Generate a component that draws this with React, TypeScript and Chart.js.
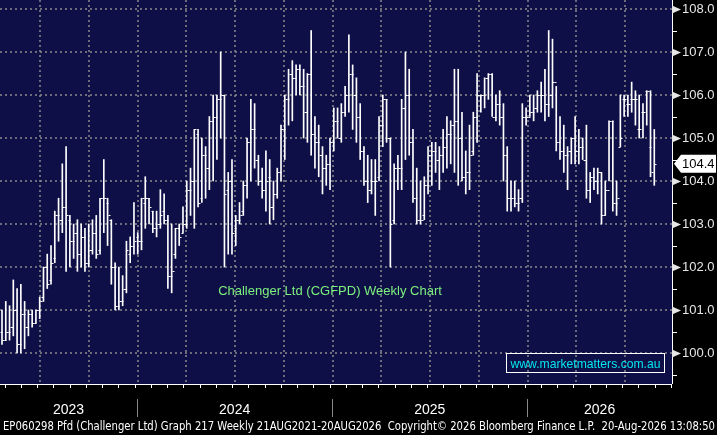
import React, { useEffect, useRef } from "react";
import { Chart, registerables } from "chart.js";
Chart.register(...registerables);

const highs = [101.0,101.2,101.1,101.7,101.5,101.6,101.2,101.0,101.0,101.0,101.3,102.0,102.3,102.5,103.3,103.6,104.4,104.8,103.2,103.0,103.1,103.0,102.9,103.0,103.1,103.2,103.6,104.5,103.6,103.1,102.1,102.0,101.8,102.6,102.7,103.5,102.8,103.6,104.1,103.6,103.3,103.3,103.8,103.7,103.2,103.0,102.9,103.0,103.4,104.0,104.3,105.2,105.2,105.0,104.8,105.5,106.0,106.0,107.0,106.0,104.2,104.5,103.2,103.5,104.0,105.0,105.9,105.8,104.6,104.3,104.7,104.5,104.0,104.3,105.3,106.0,106.6,106.8,106.7,106.7,106.6,106.5,107.5,105.5,105.3,104.8,104.6,105.0,105.7,105.7,105.8,106.2,107.4,106.7,106.4,105.8,104.8,104.6,104.5,104.5,105.5,106.0,105.9,105.0,104.4,104.6,105.9,107.0,106.6,105.2,104.3,104.0,104.1,104.8,104.9,104.9,104.8,105.2,105.5,105.4,106.6,106.6,105.6,104.7,105.3,105.6,106.5,106.0,106.4,106.5,106.5,106.0,106.1,105.8,104.8,104.0,104.0,103.8,105.8,105.7,106.0,106.0,106.1,106.3,106.6,107.5,107.3,106.2,105.5,105.3,104.8,105.0,105.5,105.2,105.0,105.3,104.2,104.3,104.3,104.2,104.0,105.4,105.4,104.0,106.0,106.0,106.0,106.3,106.1,106.0,105.8,106.1,106.1,105.2];
const lows = [100.2,100.3,100.3,100.4,100.0,100.0,100.1,100.4,100.6,100.7,100.8,101.2,101.5,101.6,102.1,102.6,102.8,101.9,102.0,102.2,101.9,102.0,101.9,102.0,102.3,102.2,102.3,102.8,102.5,101.6,101.0,101.0,101.1,101.4,102.1,102.3,102.3,102.4,102.9,103.0,102.8,102.7,102.9,103.0,101.5,101.4,102.2,102.5,102.8,102.9,103.2,102.9,103.4,103.5,103.6,103.8,104.0,104.5,105.0,102.0,102.3,102.3,102.5,103.0,103.2,103.6,104.0,104.3,103.9,103.6,103.3,103.0,103.1,103.6,104.0,104.5,105.3,105.4,106.0,106.0,105.0,104.9,104.6,104.3,104.1,103.7,103.9,103.8,104.7,105.0,104.9,105.5,105.6,105.2,104.9,104.5,103.9,103.5,103.7,103.2,104.0,104.8,104.9,102.0,103.0,103.8,103.8,104.5,104.6,103.5,103.0,103.0,103.1,103.7,103.9,104.2,103.8,104.2,104.3,104.4,104.2,103.9,104.0,103.7,103.8,104.6,104.9,105.6,105.7,105.9,105.5,105.4,105.3,104.0,103.3,103.3,103.4,103.3,103.5,105.3,105.5,105.4,105.6,105.6,105.4,105.5,105.7,104.7,104.5,104.2,103.8,104.4,104.4,104.4,104.5,103.6,103.5,103.8,103.7,103.0,103.2,104.0,103.3,103.2,104.8,105.5,105.5,105.6,105.3,105.0,105.0,105.3,104.1,103.9];
const closes = [100.3,100.5,100.6,101.0,100.2,100.9,100.6,100.9,100.7,101.0,101.2,102.0,101.6,102.1,103.2,103.1,103.4,103.2,102.6,102.8,102.3,102.7,102.1,102.4,102.8,102.3,103.6,103.6,103.2,102.0,101.1,101.2,101.5,102.4,102.5,102.6,102.6,103.6,103.6,103.4,102.9,103.0,103.2,103.1,101.8,101.9,102.9,102.7,103.0,103.8,104.0,105.2,103.5,104.6,104.3,105.4,105.5,105.9,106.0,103.7,104.0,102.8,103.1,103.2,103.9,104.9,105.2,104.5,104.0,103.8,104.0,103.4,103.7,104.2,105.2,105.9,106.5,106.4,106.6,106.2,105.6,106.5,105.1,104.9,104.6,104.3,104.4,104.9,105.4,105.0,105.6,106.0,106.5,106.0,105.5,104.7,104.0,103.8,104.0,104.0,105.3,105.9,105.0,103.0,104.3,104.3,105.7,106.0,104.9,103.6,103.1,103.1,103.9,104.6,104.7,104.5,104.6,104.8,105.1,105.3,105.4,105.0,104.1,104.2,104.6,105.5,106.0,106.0,106.4,106.5,105.5,105.8,105.5,104.6,103.6,103.6,103.5,103.6,105.5,105.5,105.6,105.7,106.0,106.0,105.8,106.0,106.3,104.9,104.7,104.6,104.7,105.0,104.7,104.8,104.5,103.8,104.1,104.0,104.2,103.2,103.8,105.4,103.5,103.6,105.0,105.9,105.8,105.9,105.9,105.2,105.6,106.1,104.2,104.4];
const opens = [100.5,100.3,100.5,100.6,101.0,100.2,100.9,100.6,100.9,100.7,101.0,101.3,102.0,101.7,102.2,103.2,103.1,103.4,103.1,102.6,102.8,102.3,102.7,102.1,102.4,102.8,102.4,103.6,103.5,103.1,102.0,101.1,101.2,101.5,102.3,102.5,102.7,102.6,103.5,103.6,103.3,102.9,103.0,103.3,103.1,101.8,102.3,102.9,102.8,103.0,103.8,104.0,105.1,103.6,104.6,104.3,105.4,105.5,105.9,106.0,103.8,104.0,102.9,103.1,103.3,103.9,104.9,105.2,104.5,104.0,103.8,104.1,103.4,103.7,104.2,105.2,105.9,106.5,106.4,106.6,106.2,105.6,106.5,105.1,104.9,104.6,104.3,104.4,104.9,105.4,105.0,105.6,106.0,106.5,106.0,105.5,104.7,104.0,103.8,104.0,104.1,105.3,105.9,105.0,103.1,104.3,104.3,105.7,106.0,104.9,103.6,103.1,103.2,103.9,104.6,104.7,104.5,104.6,104.8,105.1,105.3,105.4,105.0,104.1,104.2,104.7,105.5,106.0,106.0,106.4,106.5,105.5,105.8,105.5,104.6,103.6,103.6,103.5,103.6,105.5,105.5,105.6,105.7,106.0,106.0,105.8,106.0,106.3,104.9,104.7,104.6,104.7,105.0,104.7,104.8,104.5,103.8,104.1,104.0,104.2,103.2,103.8,105.4,103.5,104.8,105.9,105.8,105.9,105.9,105.2,105.6,106.1,104.8];
const yTicks = [100, 101, 102, 103, 104, 105, 106, 107, 108];
const years = ["2023", "2024", "2025", "2026"];
const yearBounds = [-0.53, 35.8, 87.6, 139.3, 177.7];
const lastPrice = 104.4;
const title = "Challenger Ltd (CGFPD) Weekly Chart";
const site = "www.marketmatters.com.au";
const footer = "EP060298 Pfd (Challenger Ltd) Graph 217 Weekly 21AUG2021-20AUG2026  Copyright\u00A9 2026 Bloomberg Finance L.P.  20-Aug-2026 13:08:50";

export default function App() {
  const ref = useRef<HTMLCanvasElement>(null);
  useEffect(() => {
    const canvas = ref.current!;
    const idx = highs.map((_, i) => i);
    const bg = {
      id: "bg",
      beforeDraw(c: any) {
        const ctx = c.ctx; const a = c.chartArea;
        ctx.save();
        ctx.fillStyle = "#000"; ctx.fillRect(0, 0, c.width, c.height);
        ctx.fillStyle = "#0f0f48"; ctx.fillRect(a.left, a.top, a.right - a.left, a.bottom - a.top);
        const xs = c.scales.x, ys = c.scales.y;
        ctx.strokeStyle = "#8a8a8a"; ctx.lineWidth = 1.5; ctx.setLineDash([2, 3]);
        yTicks.forEach(v => { const y = Math.round(ys.getPixelForValue(v)); ctx.beginPath(); ctx.moveTo(a.left, y); ctx.lineTo(a.right, y); ctx.stroke(); });
        for (let q = 10.08; q < 178; q += 12.93) { const x = Math.round(xs.getPixelForValue(q)); ctx.beginPath(); ctx.moveTo(x, a.top); ctx.lineTo(x, a.bottom); ctx.stroke(); }
        ctx.restore();
      },
      afterDatasetsDraw(c: any) {
        const ctx = c.ctx; const a = c.chartArea; const xs = c.scales.x, ys = c.scales.y;
        ctx.save();
        ctx.strokeStyle = "#fff"; ctx.lineWidth = 1;
        idx.forEach(i => {
          const x = Math.round(xs.getPixelForValue(i)) + 0.5;
          const yo = Math.round(ys.getPixelForValue(opens[i])) + 0.5;
          const yc = Math.round(ys.getPixelForValue(closes[i])) + 0.5;
          ctx.beginPath(); ctx.moveTo(x - 2, yo); ctx.lineTo(x, yo); ctx.moveTo(x, yc); ctx.lineTo(x + 2, yc); ctx.stroke();
        });
        ctx.strokeStyle = "#fff"; ctx.lineWidth = 1;
        ctx.beginPath(); ctx.moveTo(a.right + 0.5, 0); ctx.lineTo(a.right + 0.5, a.bottom); ctx.moveTo(0, a.bottom + 0.5); ctx.lineTo(a.right, a.bottom + 0.5); ctx.stroke();
        ctx.fillStyle = "#e6e6e6"; ctx.font = "13px 'Liberation Sans', Arial"; ctx.textBaseline = "middle"; ctx.textAlign = "left";
        for (let v = 99.5; v <= 108.01; v += 0.5) {
          const y = Math.round(ys.getPixelForValue(v)) + 0.5;
          if (y < 0 || y > a.bottom) continue;
          if (Number.isInteger(v)) {
            ctx.beginPath(); ctx.moveTo(a.right, y - 4); ctx.lineTo(a.right + 9, y); ctx.lineTo(a.right, y + 4); ctx.closePath(); ctx.fill();
            ctx.fillText(v.toFixed(1), a.right + 10, y);
          } else {
            ctx.beginPath(); ctx.moveTo(a.right, y); ctx.lineTo(a.right + 5, y); ctx.strokeStyle = "#fff"; ctx.stroke();
          }
        }
        const yl = ys.getPixelForValue(lastPrice);
        ctx.fillStyle = "#fff";
        ctx.beginPath(); ctx.moveTo(a.right + 2, yl); ctx.lineTo(a.right + 9, yl - 9); ctx.lineTo(716, yl - 9); ctx.lineTo(716, yl + 9); ctx.lineTo(a.right + 9, yl + 9); ctx.closePath(); ctx.fill();
        ctx.fillStyle = "#000"; ctx.fillText(lastPrice.toFixed(1), a.right + 10, yl + 1);
        ctx.strokeStyle = "#fff";
        for (let m = -0.53 + 1.2; m < 178; m += 4.31) { const x = Math.round(xs.getPixelForValue(m)) + 0.5; ctx.beginPath(); ctx.moveTo(x, a.bottom); ctx.lineTo(x, a.bottom + 4); ctx.stroke(); }
        ctx.strokeStyle = "#888";
        ctx.fillStyle = "#fff"; ctx.font = "14px 'Liberation Sans', Arial"; ctx.textAlign = "center";
        years.forEach((yr, k) => {
          const x0 = xs.getPixelForValue(yearBounds[k]); const x1 = xs.getPixelForValue(yearBounds[k + 1]);
          if (k > 0) { const x = Math.round(x0) + 0.5; ctx.beginPath(); ctx.moveTo(x, 399); ctx.lineTo(x, 417); ctx.stroke(); }
          ctx.fillText(yr, (x0 + x1) / 2, 410);
        });
        ctx.fillStyle = "#7CF07C"; ctx.font = "13px 'Liberation Sans', Arial";
        ctx.fillText(title, 330, 291);
        ctx.strokeStyle = "#fff"; ctx.strokeRect(506.5, 353.5, 158, 19);
        ctx.fillStyle = "#00E5EE"; ctx.font = "13px 'Liberation Sans', Arial";
        ctx.fillText(site, 585.5, 364, 150);
        ctx.fillStyle = "#fff"; ctx.font = "12px 'DejaVu Sans', Arial"; ctx.textAlign = "left";
        ctx.fillText(footer, 3, 427, 712);
        ctx.restore();
      },
    };
    const chart = new Chart(canvas, {
      type: "bar",
      data: {
        labels: idx,
        datasets: [{ data: idx.map(i => ({ x: i, y: [lows[i], highs[i]] })) as any, backgroundColor: "#fff", barThickness: 1, borderWidth: 0 }],
      },
      options: {
        animation: false, responsive: false, devicePixelRatio: 1,
        layout: { padding: { left: 0, right: 45, top: 0, bottom: 51 } },
        plugins: { legend: { display: false }, tooltip: { enabled: false } },
        scales: {
          x: { type: "linear", min: -0.53, max: 177.7, display: false, offset: false },
          y: { min: 99.28, max: 108.21, display: false },
        },
      },
      plugins: [bg],
    });
    return () => chart.destroy();
  }, []);
  return <canvas ref={ref} width={717} height={435} style={{ position: "absolute", left: 0, top: 0 }} />;
}
